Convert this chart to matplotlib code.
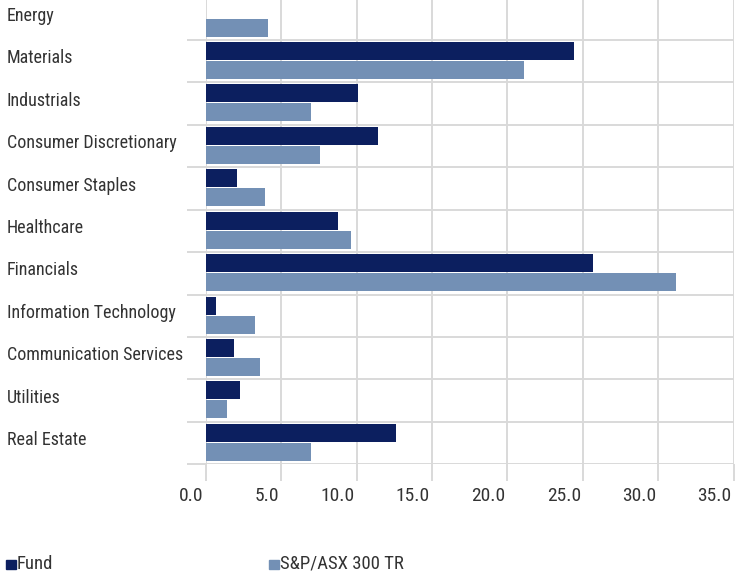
import matplotlib
matplotlib.use("Agg")
import matplotlib.pyplot as plt
import matplotlib.transforms as mtransforms
from matplotlib.patches import Rectangle
from matplotlib import font_manager

sectors = ["Energy", "Materials", "Industrials", "Consumer Discretionary",
           "Consumer Staples", "Healthcare", "Financials",
           "Information Technology", "Communication Services",
           "Utilities", "Real Estate"]
fund = [0.0, 24.4, 10.1, 11.4, 2.1, 8.8, 25.7, 0.7, 1.9, 2.3, 12.6]
bench = [4.1, 21.1, 7.0, 7.6, 3.9, 9.6, 31.2, 3.3, 3.6, 1.4, 7.0]
x_ticks = [0, 5, 10, 15, 20, 25, 30, 35]

navy = "#0c1f5f"
steel = "#7390b5"
grid_c = "#d9d9d9"
text_c = "#333333"

installed = {f.name for f in font_manager.fontManager.ttflist}
fams = [f for f in ["Liberation Sans Narrow", "Roboto Condensed", "Roboto", "DejaVu Sans"]
        if f in installed]
plt.rcParams["font.family"] = fams

W, H = 741, 573
fig = plt.figure(figsize=(W / 100, H / 100), dpi=100)
ax_l, ax_r, ax_t, ax_b = 205.7, 733.7, -2.4, 464.3
ax = fig.add_axes([ax_l / W, (H - ax_b) / H, (ax_r - ax_l) / W, (ax_b - ax_t) / H])

n = len(sectors)
ys = list(range(n))
ax.barh([y + 0.26 for y in ys], fund, height=0.424, color=navy, zorder=3)
ax.barh([y + 0.707 for y in ys], bench, height=0.424, color=steel, zorder=3)

ax.set_xlim(0, 35)
ax.set_ylim(n, 0)
ax.set_xticks(x_ticks)
ax.set_xticklabels([f"{v:.1f}" for v in x_ticks])
ax.set_yticks(range(n + 1))
ax.set_yticklabels([])
for s in ax.spines.values():
    s.set_visible(False)
ax.grid(True, color=grid_c, linewidth=1.4, zorder=0)
ax.tick_params(axis="x", length=12, width=1.4, color=grid_c, pad=4.5,
               labelsize=14, labelcolor=text_c)
ax.tick_params(axis="y", length=14, width=1.4, color=grid_c)

# tick labels sit just left of their gridline
shift = mtransforms.ScaledTranslation(-2 / 100, 0, fig.dpi_scale_trans)
for lab in ax.get_xticklabels():
    lab.set_horizontalalignment("right")
    lab.set_transform(lab.get_transform() + shift)

trans = mtransforms.blended_transform_factory(fig.transFigure, ax.transData)
for i, name in enumerate(sectors):
    fig.text(7 / W, i + 0.43, name, transform=trans, ha="left", va="center",
             fontsize=13, color=text_c)

# legend
for x0, label, col in [(6, "Fund", navy), (269, "S&P/ASX 300 TR", steel)]:
    fig.patches.append(Rectangle((x0 / W, (H - 569) / H), 9.5 / W, 9.5 / H,
                                 transform=fig.transFigure, color=col))
    fig.text((x0 + 10.5) / W, (H - 564) / H, label, ha="left", va="center",
             fontsize=13.5, color=text_c)

fig.savefig("out.png", dpi=100)
